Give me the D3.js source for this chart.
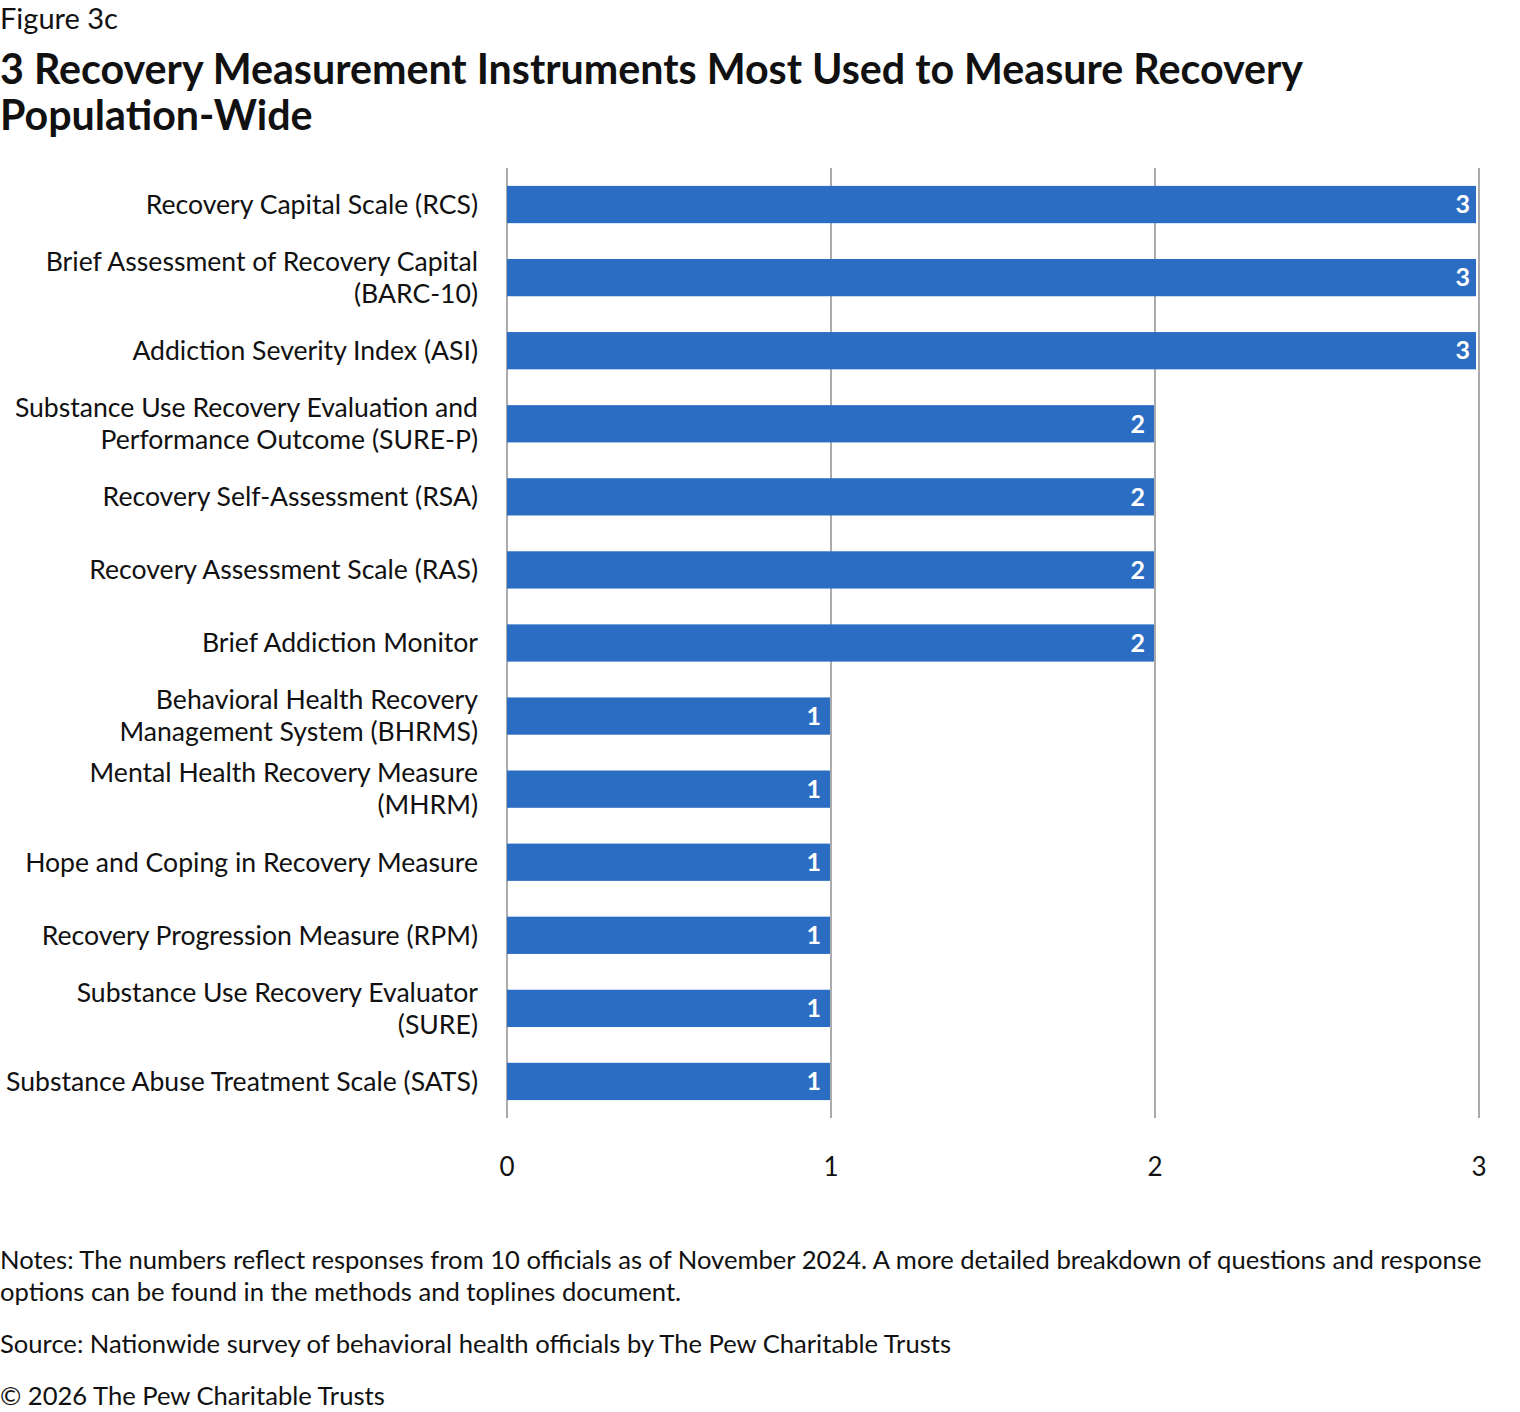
<!DOCTYPE html>
<html>
<head>
<meta charset="utf-8">
<script src="https://cdn.jsdelivr.net/npm/d3@7"></script>
<style>
  body { margin: 0; background: #fff; }
  text { font-family: Lato, "Open Sans", sans-serif; fill: #111; }
</style>
</head>
<body>
<div id="chart"></div>
<script>
// data
var labels = [
  ["Recovery Capital Scale (RCS)"],
  ["Brief Assessment of Recovery Capital", "(BARC-10)"],
  ["Addiction Severity Index (ASI)"],
  ["Substance Use Recovery Evaluation and", "Performance Outcome (SURE-P)"],
  ["Recovery Self-Assessment (RSA)"],
  ["Recovery Assessment Scale (RAS)"],
  ["Brief Addiction Monitor"],
  ["Behavioral Health Recovery", "Management System (BHRMS)"],
  ["Mental Health Recovery Measure", "(MHRM)"],
  ["Hope and Coping in Recovery Measure"],
  ["Recovery Progression Measure (RPM)"],
  ["Substance Use Recovery Evaluator", "(SURE)"],
  ["Substance Abuse Treatment Scale (SATS)"]
];
var values = [3, 3, 3, 2, 2, 2, 2, 1, 1, 1, 1, 1, 1];
var xTicks = [0, 1, 2, 3];

var W = 1520, H = 1412;
var svg = d3.select("#chart").append("svg")
  .attr("width", W).attr("height", H);

// header
svg.append("text").attr("x", 0).attr("y", 29)
  .style("font-size", "29px").text("Figure 3c");
svg.append("text").attr("x", 0).attr("y", 84)
  .style("font-size", "41.2px").style("font-weight", "bold")
  .text("3 Recovery Measurement Instruments Most Used to Measure Recovery");
svg.append("text").attr("x", 0).attr("y", 130)
  .style("font-size", "41.2px").style("font-weight", "bold")
  .text("Population-Wide");

var idx = d3.range(values.length);
var x = d3.scaleLinear().domain([0, 3]).range([507, 1479]);
var y = d3.scaleBand().domain(idx).range([168, 1118]).paddingInner(0.49).paddingOuter(0.245);

// gridlines
svg.append("g").selectAll("line").data(xTicks).enter().append("line")
  .attr("x1", function(d) { return x(d); })
  .attr("x2", function(d) { return x(d); })
  .attr("y1", 168).attr("y2", 1118)
  .attr("stroke", "#ababab").attr("stroke-width", 2);

// bars
svg.append("g").selectAll("rect").data(idx).enter().append("rect")
  .attr("x", x(0))
  .attr("y", function(i) { return y(i); })
  .attr("width", function(i) { return x(values[i]) - x(0) - (values[i] == 3 ? 3 : 1); })
  .attr("height", y.bandwidth())
  .attr("fill", "#2b6dc3");

// value labels
svg.append("g").selectAll("text").data(idx).enter().append("text")
  .attr("x", function(i) { return x(values[i]) - (values[i] == 3 ? 9 : 10); })
  .attr("y", function(i) { return y(i) + y.bandwidth() / 2; })
  .attr("dy", "0.35em")
  .attr("text-anchor", "end")
  .style("font-size", "25px").style("fill", "#fff").style("font-weight", "bold")
  .text(function(i) { return values[i]; });

// category labels
var lab = svg.append("g").selectAll("text").data(idx).enter().append("text")
  .attr("text-anchor", "end")
  .style("font-size", "26.6px");
lab.each(function(i) {
  var lines = labels[i];
  var cy = y(i) + y.bandwidth() / 2;
  var t = d3.select(this);
  lines.forEach(function(l, k) {
    t.append("tspan").attr("x", 478)
      .attr("y", cy + (k - (lines.length - 1) / 2) * 32)
      .attr("dy", "0.35em").text(l);
  });
});

// x tick labels
svg.append("g").selectAll("text").data(xTicks).enter().append("text")
  .attr("x", function(d) { return x(d); })
  .attr("y", 1176)
  .attr("text-anchor", "middle")
  .style("font-size", "26px")
  .text(function(d) { return d; });

// notes
var notes = [
  [1269, "Notes: The numbers reflect responses from 10 officials as of November 2024. A more detailed breakdown of questions and response"],
  [1301, "options can be found in the methods and toplines document."],
  [1353, "Source: Nationwide survey of behavioral health officials by The Pew Charitable Trusts"],
  [1405, "\u00a9 2026 The Pew Charitable Trusts"]
];
svg.append("g").selectAll("text").data(notes).enter().append("text")
  .attr("x", 0).attr("y", function(d) { return d[0]; })
  .style("font-size", "25.6px")
  .text(function(d) { return d[1]; });
</script>
</body>
</html>
